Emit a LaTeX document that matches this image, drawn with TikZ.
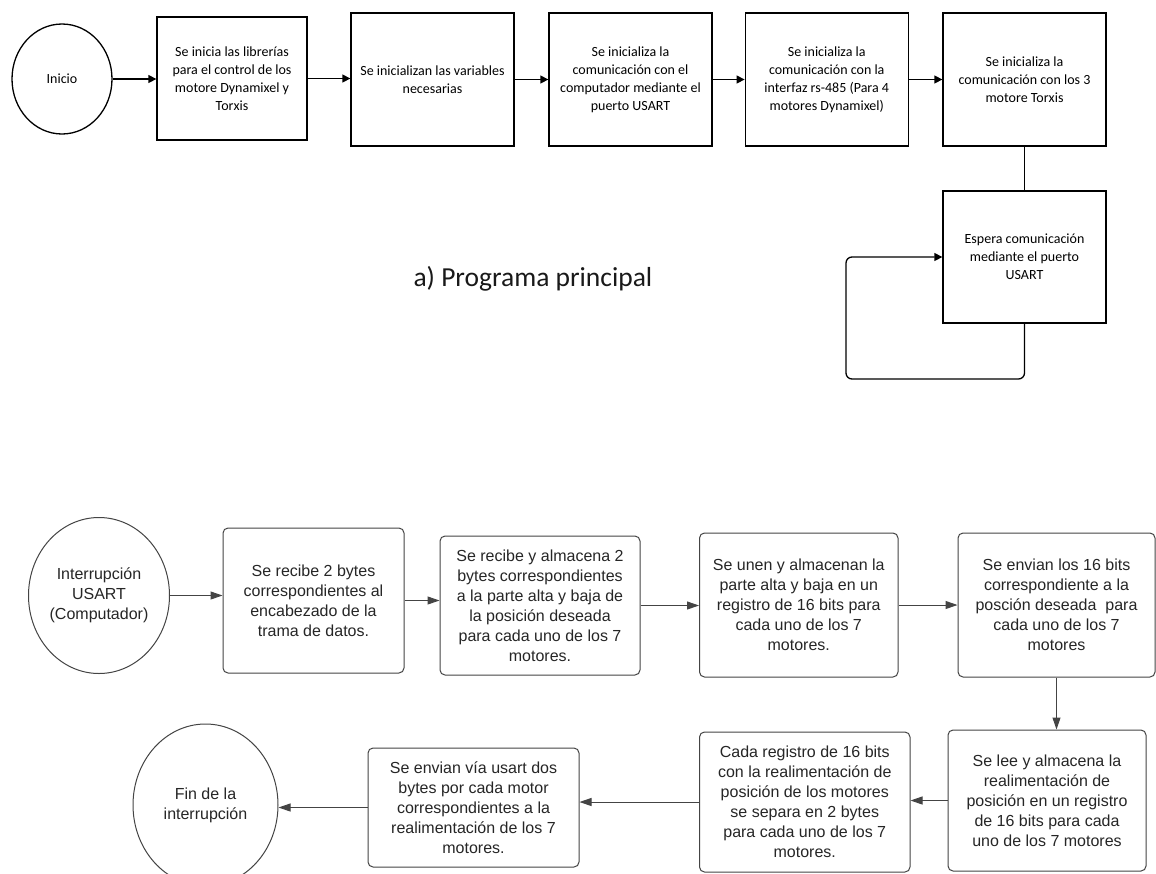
\documentclass[tikz,border=0pt]{standalone}
\usepackage{fontspec}
\setmainfont{Carlito}
\newfontfamily\arialfont{Liberation Sans}
\usetikzlibrary{arrows.meta,shapes.geometric}
\definecolor{lineGray}{HTML}{444444}
\definecolor{textGray}{HTML}{262626}
\begin{document}
\begin{tikzpicture}[x=1pt,y=-1pt,
  topbox/.style={draw=black, line width=1.3pt, align=center, inner sep=2pt,
    font=\fontsize{14}{18}\selectfont},
  topcirc/.style={ellipse, draw=black, line width=1.3pt, align=center, inner sep=0pt,
    font=\fontsize{14}{18}\selectfont},
  toparr/.style={line width=1.3pt, -{Triangle[length=8pt,width=8pt]}},
  topline/.style={line width=1.3pt},
  botbox/.style={draw=lineGray, line width=1pt, rounded corners=5pt, align=center,
    inner sep=2pt, text=textGray, font=\arialfont\fontsize{16}{20}\selectfont},
  botcirc/.style={ellipse, draw=lineGray, line width=1pt, align=center, inner sep=0pt,
    text=textGray, font=\arialfont\fontsize{16}{20}\selectfont},
  botarr/.style={draw=lineGray, line width=1pt, -{Triangle[length=12pt,width=8pt]}},
  title/.style={font=\fontsize{27.5}{32}\selectfont, text=black!90}
]
\clip (0,0) rectangle (1156,873);
\fill[white] (0,0) rectangle (1156,873);

% ---------------- a) main program ----------------
\node[topcirc, minimum width=100pt, minimum height=110pt] (ini) at (62,79) {Inicio};
\node[topbox, minimum width=150pt, minimum height=123pt] (b1) at (232,78.5)
  {Se inicia las librerías\\para el control de los\\motore Dynamixel y\\Torxis};
\node[topbox, minimum width=163pt, minimum height=133pt] (b2) at (432.5,79.5)
  {Se inicializan las variables\\necesarias};
\node[topbox, minimum width=163pt, minimum height=133pt] (b3) at (630.5,79.5)
  {Se inicializa la\\comunicación con el\\computador mediante el\\puerto USART};
\node[topbox, minimum width=163pt, minimum height=133pt] (b4) at (826.75,79.5)
  {Se inicializa la\\comunicación con la\\interfaz rs-485 (Para 4\\motores Dynamixel)};
\node[topbox, minimum width=163pt, minimum height=133pt] (b5) at (1024.5,79.5)
  {Se inicializa la\\comunicación con los 3\\motore Torxis};
\node[topbox, minimum width=163pt, minimum height=132pt] (b6) at (1024.5,257)
  {Espera comunicación\\mediante el puerto\\USART};

\draw[toparr] (ini.east) -- (ini.east -| b1.west);
\draw[toparr] (b1.east) -- (b1.east -| b2.west);
\draw[toparr] (b2.east) -- (b3.west);
\draw[toparr] (b3.east) -- (b4.west);
\draw[toparr] (b4.east) -- (b5.west);
\draw[topline] (b5.south) -- (b6.north);
\coordinate (loopc) at (846,379);
\draw[toparr, rounded corners=6pt] (b6.south) |- (loopc) |- (b6.west);

\node[title, anchor=base west] (ttl) at (410,286) {a) Programa principal};

% ---------------- USART interrupt ----------------
\node[botcirc, minimum width=141pt, minimum height=156pt] (irq) at (99,595.5)
  {Interrupción\\USART\\(Computador)};
\node[botbox, minimum width=181pt, minimum height=145pt] (ba) at (313.5,600.5)
  {Se recibe 2 bytes\\correspondientes al\\encabezado de la\\trama de datos.};
\node[botbox, minimum width=200pt, minimum height=139pt] (bb) at (540,605.5)
  {Se recibe y almacena 2\\bytes correspondientes\\a la parte alta y baja de\\la posición deseada\\para cada uno de los 7\\motores.};
\node[botbox, minimum width=198.5pt, minimum height=144pt] (bc) at (798.75,605)
  {Se unen y almacenan la\\parte alta y baja en un\\registro de 16 bits para\\cada uno de los 7\\motores.};
\node[botbox, minimum width=197pt, minimum height=144pt] (bd) at (1056.5,605)
  {Se envian los 16 bits\\correspondiente a la\\posción deseada\ \ para\\cada uno de los 7\\motores};
\node[botbox, minimum width=198pt, minimum height=141pt] (be) at (1047,800.5)
  {Se lee y almacena la\\realimentación de\\posición en un registro\\de 16 bits para cada\\uno de los 7 motores};
\node[botbox, minimum width=210.5pt, minimum height=140pt] (bg) at (804.75,802)
  {Cada registro de 16 bits\\con la realimentación de\\posición de los motores\\se separa en 2 bytes\\para cada uno de los 7\\motores.};
\node[botbox, minimum width=211pt, minimum height=119pt] (bf) at (473.5,807.5)
  {Se envian vía usart dos\\bytes por cada motor\\correspondientes a la\\realimentación de los 7\\motores.};
\node[botcirc, minimum width=145pt, minimum height=162pt] (fin) at (205.5,805)
  {Fin de la\\interrupción};

\draw[botarr] (irq.east) -- (irq.east -| ba.west);
\draw[botarr] (ba.east) -- (ba.east -| bb.west);
\draw[botarr] (bb.east) -- (bb.east -| bc.west);
\draw[botarr] (bc.east) -- (bd.west);
\draw[botarr] (bd.south) -- (bd.south |- be.north);
\draw[botarr] (be.west) -- (be.west -| bg.east);
\draw[botarr] (bg.west) -- (bg.west -| bf.east);
\draw[botarr] (bf.west) -- (bf.west -| fin.east);
\end{tikzpicture}
\end{document}
